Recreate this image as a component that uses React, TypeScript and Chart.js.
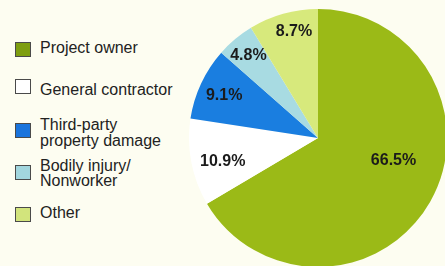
import React, { useEffect, useRef } from "react";
import { Chart, registerables } from "chart.js";

Chart.register(...registerables);

const categories = [
  "Project owner",
  "General contractor",
  "Third-party property damage",
  "Bodily injury/ Nonworker",
  "Other",
];
const legendLines = [
  ["Project owner"],
  ["General contractor"],
  ["Third-party", "property damage"],
  ["Bodily injury/", "Nonworker"],
  ["Other"],
];
const values = [66.5, 10.9, 9.1, 4.8, 8.7];
const valueLabels = ["66.5%", "10.9%", "9.1%", "4.8%", "8.7%"];
const sliceColors = ["#9bba17", "#ffffff", "#1a7ee0", "#a8dbe2", "#d7e97c"];
const legendColors = ["#7e9e10", "#ffffff", "#1a74dc", "#a2d6de", "#d2e47c"];

const BG = "#fdfdf1";

// label placement style (radial fraction, angular shift in degrees)
const labelRadius = [0.61, 0.76, 0.8, 0.84, 0.85];
const labelShift = [-13.4, -2.6, -0.4, 0, 3];

const labelPlugin = {
  id: "sliceLabels",
  afterDatasetsDraw(chart: any) {
    const ctx = chart.ctx;
    const meta = chart.getDatasetMeta(0);
    ctx.save();
    ctx.font = "bold 16px 'Liberation Sans', Arial, sans-serif";
    ctx.fillStyle = "#1b1b1b";
    ctx.textAlign = "center";
    ctx.textBaseline = "middle";
    meta.data.forEach((arc: any, i: number) => {
      const p = arc.getProps(["x", "y", "startAngle", "endAngle", "outerRadius"], true);
      const mid = (p.startAngle + p.endAngle) / 2 + (labelShift[i] * Math.PI) / 180;
      const r = p.outerRadius * labelRadius[i];
      ctx.fillText(valueLabels[i], p.x + Math.cos(mid) * r, p.y + Math.sin(mid) * r + 1);
    });
    ctx.restore();
  },
};

const legendTops = [40, 81.5, 117.4, 157.6, 204.8];
const boxTops = [42, 79, 123, 165, 207];

export default function App() {
  const canvasRef = useRef<HTMLCanvasElement>(null);

  useEffect(() => {
    document.body.style.margin = "0";
    const chart = new Chart(canvasRef.current as HTMLCanvasElement, {
      type: "pie",
      data: {
        labels: categories,
        datasets: [
          {
            data: values,
            backgroundColor: sliceColors,
            borderWidth: 0,
            hoverOffset: 0,
            offset: 0,
          },
        ],
      },
      options: {
        responsive: false,
        animation: false,
        events: [],
        layout: { padding: 0 },
        plugins: {
          legend: { display: false },
          tooltip: { enabled: false },
        },
      },
      plugins: [labelPlugin],
    });
    return () => chart.destroy();
  }, []);

  return (
    <div
      style={{
        position: "fixed",
        left: 0,
        top: 0,
        width: 445,
        height: 266,
        overflow: "hidden",
        background: BG,
        fontFamily: "'Liberation Sans', Arial, sans-serif",
        color: "#222",
      }}
    >
      {legendLines.map((lines, i) => (
        <React.Fragment key={i}>
          <div
            style={{
              position: "absolute",
              left: 15,
              top: boxTops[i],
              width: 14,
              height: 13,
              background: legendColors[i],
              border: "1px solid #4a4a4a",
            }}
          />
          <div
            style={{
              position: "absolute",
              left: 40,
              top: legendTops[i],
              fontSize: 16,
              lineHeight: "15.5px",
              whiteSpace: "nowrap",
            }}
          >
            {lines.map((l, j) => (
              <div key={j}>{l}</div>
            ))}
          </div>
        </React.Fragment>
      ))}
      <div style={{ position: "absolute", left: 189, top: 9, width: 258, height: 258 }}>
        <canvas ref={canvasRef} width={258} height={258} />
      </div>
    </div>
  );
}
